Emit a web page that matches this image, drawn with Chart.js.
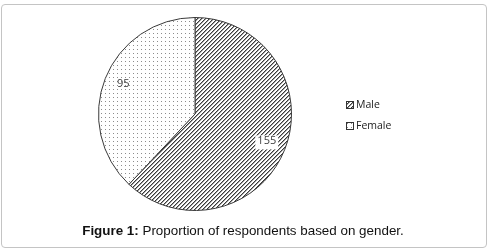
<!DOCTYPE html>
<html>
<head>
<meta charset="utf-8">
<script src="https://cdn.jsdelivr.net/npm/chart.js@4.4.0/dist/chart.umd.min.js"></script>
<style>
  html, body { margin: 0; padding: 0; background: #fff; }
  body { width: 490px; height: 251px; position: relative; overflow: hidden; }
  .frame {
    position: absolute; left: 1px; top: 4px; width: 484px; height: 242px;
    border: 1px solid #c4c4c4; border-radius: 4px;
  }
  #chart { position: absolute; left: 0; top: 0; }
  .legend {
    position: absolute; left: 346px; top: 97px;
    font-family: "Open Sans", "DejaVu Sans", sans-serif; font-size: 10.5px; color: #222;
  }
  .legend div { height: 21px; line-height: 14px; white-space: nowrap; }
  .legend canvas { vertical-align: -1px; margin-right: 2px; }
  .caption {
    position: absolute; left: 0; width: 486px; top: 223px; text-align: center;
    font-family: "Liberation Sans", Arial, sans-serif; font-size: 13.4px; color: #111;
  }
</style>
</head>
<body>
<div class="frame"></div>
<canvas id="chart" width="490" height="251"></canvas>
<div class="legend" id="legend"></div>
<div class="caption"><b>Figure 1:</b> Proportion of respondents based on gender.</div>
<script>
  'use strict';

  var categories = ['Male', 'Female'];
  var counts = [155, 95];

  // Small fill patterns like the old Excel ones
  function makePattern(kind) {
    var c = document.createElement('canvas');
    c.width = 4; c.height = 4;
    var g = c.getContext('2d');
    g.fillStyle = '#fff';
    g.fillRect(0, 0, 4, 4);
    if (kind === 'hatch') {
      for (var i = 0; i < 4; i++) {
        g.fillStyle = '#3a3a3a';
        g.fillRect(3 - i, i, 1, 1);
        g.fillStyle = '#a0a0a0';
        g.fillRect((4 - i) % 4, i, 1, 1);
      }
    } else {
      g.fillStyle = '#8c8c8c';
      g.fillRect(1, 1, 1, 1);
    }
    return g.createPattern(c, 'repeat');
  }

  var ctx = document.getElementById('chart').getContext('2d');
  var fills = [makePattern('hatch'), makePattern('dots')];

  var valueLabels = {
    id: 'valueLabels',
    afterDatasetsDraw: function(chart) {
      var c = chart.ctx;
      var meta = chart.getDatasetMeta(0);
      c.save();
      c.font = '11px "Open Sans", "DejaVu Sans", sans-serif';
      c.textAlign = 'center';
      c.textBaseline = 'middle';
      meta.data.forEach(function(arc, i) {
        var mid = (arc.startAngle + arc.endAngle) / 2;
        var r = arc.outerRadius * 0.8;
        var x = arc.x + Math.cos(mid) * r;
        var y = arc.y + Math.sin(mid) * r;
        var text = String(counts[i]);
        if (i === 0) {
          var w = c.measureText(text).width + 4;
          c.fillStyle = '#fff';
          c.fillRect(x - w / 2, y - 7, w, 14);
        }
        c.fillStyle = '#404040';
        c.fillText(text, x, y - 2);
      });
      c.restore();
    }
  };

  new Chart(ctx, {
    type: 'pie',
    data: {
      labels: categories,
      datasets: [{
        data: counts,
        backgroundColor: fills,
        borderColor: '#3a3a3a',
        borderWidth: 1
      }]
    },
    options: {
      responsive: false,
      animation: false,
      layout: { padding: { left: 97, right: 197, top: 17, bottom: 40 } },
      plugins: {
        legend: { display: false },
        tooltip: { enabled: false }
      }
    },
    plugins: [valueLabels]
  });

  // legend with little pattern swatches
  var legend = document.getElementById('legend');
  categories.forEach(function(name, i) {
    var row = document.createElement('div');
    var sw = document.createElement('canvas');
    sw.width = 8; sw.height = 8;
    var g = sw.getContext('2d');
    g.fillStyle = fills[i];
    g.fillRect(0, 0, 8, 8);
    g.strokeStyle = '#333';
    g.strokeRect(0.5, 0.5, 7, 7);
    row.appendChild(sw);
    row.appendChild(document.createTextNode(name));
    legend.appendChild(row);
  });
</script>
</body>
</html>
